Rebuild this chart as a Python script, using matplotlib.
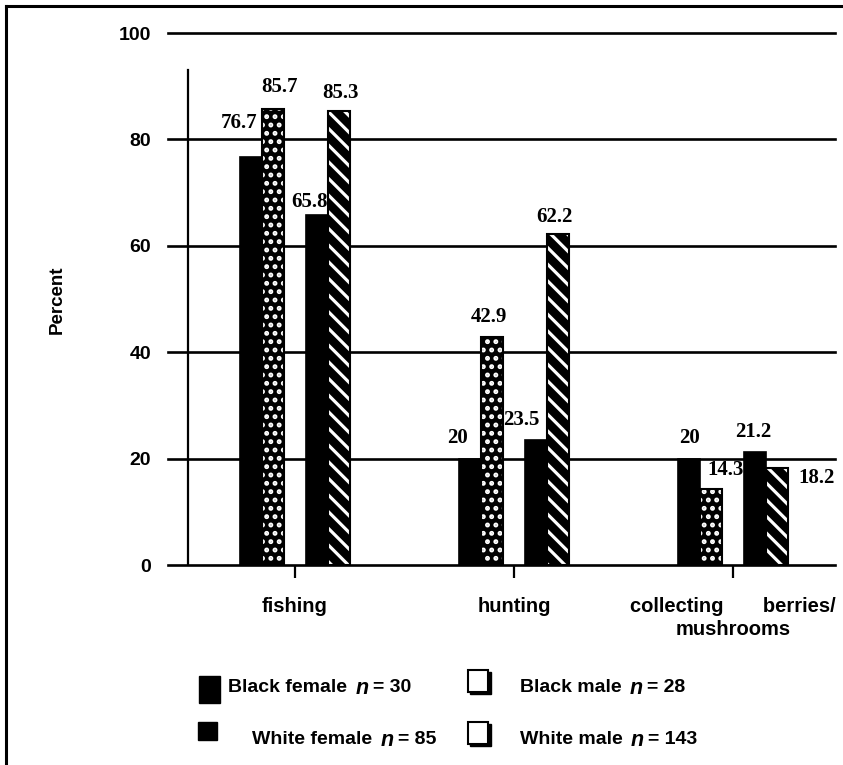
import numpy as np
import matplotlib.pyplot as plt
from matplotlib.lines import Line2D
from matplotlib.patches import Rectangle

# data
categories = ["fishing", "hunting", "collecting       berries/\nmushrooms"]
black_female = [76.7, 20, 20]
black_male = [85.7, 42.9, 14.3]
white_female = [65.8, 23.5, 21.2]
white_male = [85.3, 62.2, 18.2]
yticks = [0, 20, 40, 60, 80, 100]
legend_names = ["Black female", "White female", "Black male", "White male"]
legend_counts = ["30", "85", "28", "143"]

W, H = 843, 765
SANS = "Liberation Sans"
SERIF = "Liberation Serif"

plt.rcParams['hatch.linewidth'] = 2.3


def fxy(x, y):
    '''
        pixel position (from top left) -> figure fraction
    '''
    return x / W, 1 - y / H


def main():
    fig = plt.figure(figsize=(W / 100, H / 100), dpi=100)
    ax = fig.add_axes([168 / W, 1 - 565 / H, 667 / W, 532 / H])
    ax.set_xlim(-0.58, 2.466)
    ax.set_ylim(0, 100)
    for s in ax.spines.values():
        s.set_visible(False)

    # horizontal rules
    for yv in yticks:
        ax.axhline(yv, color="black", lw=1.9, zorder=1, clip_on=False)
    # short vertical axis line
    ax.plot([-0.489, -0.489], [0, 93], color="black", lw=1.6, zorder=1)

    x = np.arange(len(categories))
    w = 0.1
    series = [black_female, black_male, white_female, white_male]
    offsets = [-0.2, -0.1, 0.1, 0.2]
    hatches = [None, "..", None, "\\\\"]
    for vals, off, h in zip(series, offsets, hatches):
        if h is None:
            ax.bar(x + off, vals, w, color="black", edgecolor="black",
                   linewidth=1.2, zorder=3)
        else:
            ax.bar(x + off, vals, w, color="black", edgecolor="white",
                   hatch=h, linewidth=0, zorder=3)
            ax.bar(x + off, vals, w, facecolor="none", edgecolor="black",
                   linewidth=1.5, zorder=4)

    # value labels, placed by hand like the original
    label_dx = [[-0.056, -0.06, 0.0], [0.027, -0.014, 0.068],
                [-0.034, -0.068, -0.009], [0.01, -0.017, 0.184]]
    label_dy = [[6.4, 3.9, 3.9], [4.1, 3.7, 3.6],
                [2.4, 3.8, 3.8], [3.4, 3.2, -1.8]]
    for k, (vals, off) in enumerate(zip(series, offsets)):
        for i, v in enumerate(vals):
            txt = ("%g" % v)
            ax.text(x[i] + off + label_dx[k][i], v + label_dy[k][i], txt,
                    ha="center", va="center", fontsize=15,
                    fontweight="bold", family=SERIF, zorder=2)

    ax.set_yticks(yticks)
    ax.set_yticklabels([str(t) for t in yticks], fontsize=14,
                       fontweight="bold", family=SANS)
    ax.tick_params(axis="y", length=0, pad=12)
    ax.set_xticks(x)
    ax.set_xticklabels(categories, fontsize=14.5, fontweight="bold",
                       family=SANS, linespacing=1.25)
    ax.tick_params(axis="x", direction="out", length=9, width=1.6,
                   pad=14, color="black")

    fig.text(*fxy(57, 300), "Percent", rotation=90, ha="center",
             va="center", fontsize=13.5, fontweight="bold", family=SANS)

    # legend drawn by hand
    fig.add_artist(Rectangle(fxy(199, 703), 21 / W, 27 / H,
                             transform=fig.transFigure, color="black"))
    fig.add_artist(Rectangle(fxy(198, 740), 19 / W, 18 / H,
                             transform=fig.transFigure, color="black"))
    for ytop in [670, 722]:
        fig.add_artist(Rectangle(fxy(470, ytop + 24), 21 / W, 22 / H,
                                 transform=fig.transFigure, color="black"))
        fig.add_artist(Rectangle(fxy(468, ytop + 22), 20 / W, 22 / H,
                                 transform=fig.transFigure,
                                 facecolor="white", edgecolor="black",
                                 linewidth=1.5))
    text_pos = [(228, 688), (252, 740), (520, 688), (520, 740)]
    for name, cnt, (tx, ty) in zip(legend_names, legend_counts, text_pos):
        t1 = fig.text(*fxy(tx, ty), name, ha="left", va="center",
                      fontsize=14, fontweight="bold", family=SANS)
        t2 = ax.annotate("n", xy=(1, 0.5), xycoords=t1, xytext=(6, 0),
                         textcoords="offset points", ha="left", va="center",
                         fontsize=15.5, fontweight="bold", fontstyle="italic",
                         family=SANS, annotation_clip=False)
        ax.annotate("= " + cnt, xy=(1, 0.5), xycoords=t2, xytext=(3, 0),
                    textcoords="offset points", ha="left", va="center",
                    fontsize=14, fontweight="bold", family=SANS,
                    annotation_clip=False)

    # frame lines (left and top)
    fig.add_artist(Line2D([5.5 / W, 5.5 / W], [0, 1 - 5.5 / H],
                          transform=fig.transFigure, color="black", lw=2.2))
    fig.add_artist(Line2D([5.5 / W, 1], [1 - 5.5 / H, 1 - 5.5 / H],
                          transform=fig.transFigure, color="black", lw=2.2))

    fig.savefig("out.png", dpi=100)


if __name__ == "__main__":
    main()
